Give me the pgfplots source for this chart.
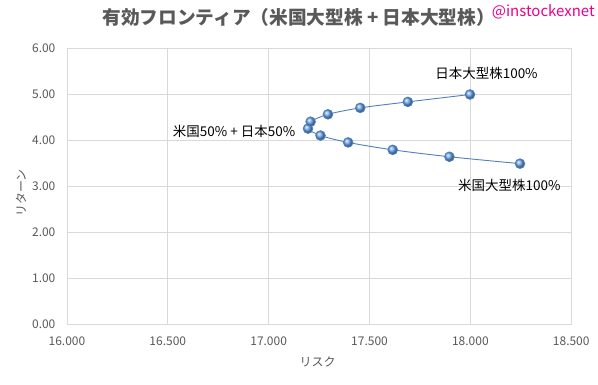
\documentclass[border=0pt]{standalone}
\usepackage{pgfplots}
\pgfplotsset{compat=1.18}
\usepackage{fontspec}
\setmainfont{Noto Sans CJK JP}
\definecolor{gridc}{HTML}{D9D9D9}
\definecolor{txtc}{HTML}{595959}
\definecolor{linec}{HTML}{4F81BD}
\definecolor{ballc}{HTML}{6FA8F0}
\begin{document}
\begin{tikzpicture}
\path[fill=white] (0pt,0pt) rectangle (598pt,385pt);
\begin{axis}[
  at={(67pt,60pt)}, anchor=south west,
  scale only axis, width=505pt, height=277pt,
  xmin=16, xmax=18.5, ymin=0, ymax=6,
  xtick={16,16.5,...,18.5}, ytick={0,1,...,6},
  grid=major, major grid style={gridc, line width=0.75pt},
  axis line style={gridc, line width=0.75pt},
  tick style={draw=none},
  /pgf/number format/assume math mode=true,
  xticklabel style={/pgf/number format/fixed, /pgf/number format/fixed zerofill, /pgf/number format/precision=3, yshift=-9pt},
  yticklabel style={/pgf/number format/fixed, /pgf/number format/fixed zerofill, /pgf/number format/precision=2, xshift=-8pt},
  ticklabel style={font=\fontsize{12}{14}\selectfont, text=txtc},
  clip=false,
]
\addplot[linec, line width=0.9pt, smooth, mark=ball, mark size=4.8pt, mark options={ball color=ballc}] coordinates {
(18.246,3.49)
(17.896,3.64)
(17.615,3.79)
(17.394,3.95)
(17.257,4.10)
(17.195,4.25)
(17.208,4.40)
(17.294,4.56)
(17.454,4.70)
(17.690,4.83)
(17.998,4.99)
};
\node[font=\fontsize{13.5}{15}\selectfont] at (axis cs:18.08,5.45) {日本大型株100\%};
\node[font=\fontsize{13.5}{15}\selectfont, anchor=east] at (axis cs:17.149,4.20) {米国50\% + 日本50\%};
\node[font=\fontsize{13.5}{15}\selectfont] at (axis cs:18.193,3.01) {米国大型株100\%};
\end{axis}
\node[font=\fontsize{18.7}{20}\selectfont\bfseries, text=txtc] at (299pt,368pt) {有効フロンティア（米国大型株 + 日本大型株）};
\node[font=\fontsize{15}{16}\selectfont, text={magenta}] at (544pt,373pt) {@instockexnet};
\node[font=\fontsize{12}{14}\selectfont, text=txtc] at (318pt,23pt) {リスク};
\node[font=\fontsize{12}{14}\selectfont, text=txtc, rotate=90] at (21pt,192pt) {リターン};
\end{tikzpicture}
\end{document}
